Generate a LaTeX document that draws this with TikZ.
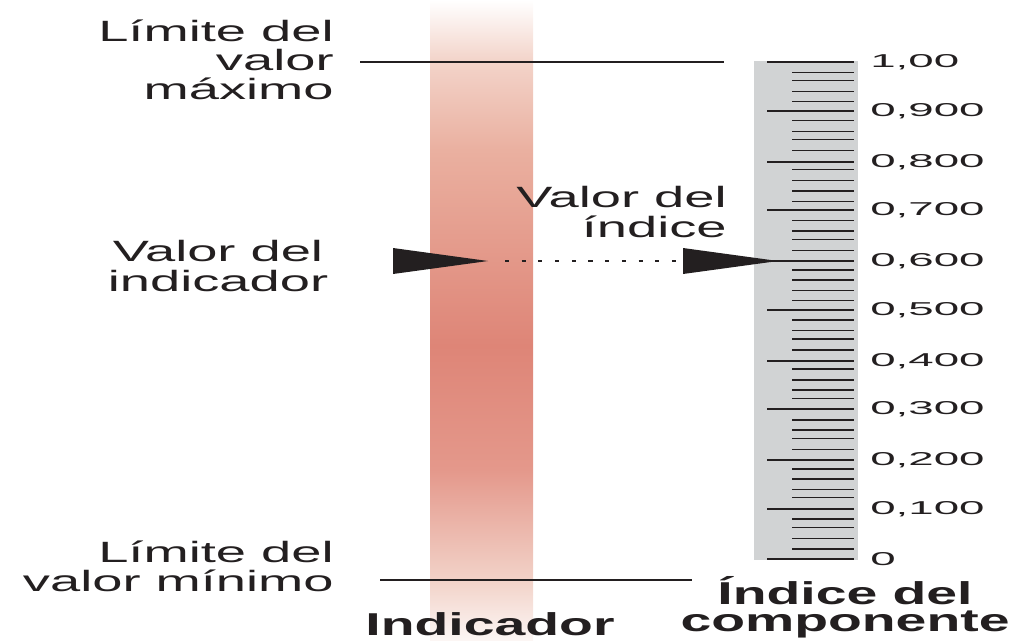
\documentclass[tikz,border=0pt]{standalone}
\usepackage{fontspec}
\setmainfont{Liberation Sans}
\newfontfamily\lblfont[FakeStretch=1.85]{Liberation Sans}
\newfontfamily\numfont[FakeStretch=2.45]{Liberation Sans}
\newfontfamily\ttlfont[FakeStretch=1.75]{Liberation Sans}
\usetikzlibrary{positioning}

\definecolor{barred}{RGB}{222,133,119}
\definecolor{barhigh}{RGB}{243,212,202}
\definecolor{barmidA}{RGB}{234,176,160}
\definecolor{barmidB}{RGB}{228,152,139}
\definecolor{barlow}{RGB}{242,210,200}
\definecolor{barbot}{RGB}{252,246,244}
\definecolor{scalegray}{RGB}{209,211,212}
\definecolor{ink}{RGB}{35,31,32}

\pgfdeclareverticalshading{barshade}{100bp}{color(0bp)=(barbot); color(25bp)=(barbot); color(29.7bp)=(barlow); color(38.3bp)=(barmidB); color(48bp)=(barred); color(63.3bp)=(barmidA); color(70.3bp)=(barhigh); color(75bp)=(white); color(100bp)=(white)}

\tikzset{
  lbl/.style={font=\lblfont\fontsize{16.7}{16.6}\selectfont, inner sep=0pt, text=ink},
  ttl/.style={font=\ttlfont\bfseries\fontsize{18}{15.6}\selectfont, inner sep=0pt, text=ink},
  num/.style={font=\numfont\fontsize{10.6}{12}\selectfont, inner sep=0pt, anchor=west, text=ink},
  limline/.style={ink, line width=0.9pt},
  tickmark/.style={ink, line width=0.8pt},
  dart/.style={fill=ink}
}

\begin{document}
\begin{tikzpicture}[x=0.02cm, y=-0.02cm]
        \useasboundingbox (0,0) rectangle (1021,640);

        % bars
        \shade[shading=barshade] (430,0) rectangle (533,640);
        \fill[scalegray] (754,61) rectangle (858,560);

        % scale
        \foreach \y/\t [count=\i] in {62/{1,00}, 111/{0,900}, 162/{0,800}, 210/{0,700}, 261/{0,600},
                310/{0,500}, 361/{0,400}, 409/{0,300}, 460/{0,200}, 509/{0,100}, 559/{0}} {
            \draw[tickmark] (767,\y) -- (854,\y);
            \node[num] (num\i) at (870,\y) {\t};
        }
        \foreach \y in {72.7, 80.7, 91.7, 101.7, 120.7, 131.7, 139.3, 150.7, 169.3, 180.7, 191, 201.7,
                220.7, 231, 239.3, 250.3, 270, 280, 290.7, 300.7, 320, 330.7, 339, 350,
                369, 380, 390, 398.3, 420, 430, 438.7, 449.2, 469, 479, 489.3, 497.3, 519, 527.7, 538.3, 549}
            \draw[tickmark] (792,\y) -- (854,\y);

        % limits
        \coordinate (maxL) at (360,62);
        \coordinate (maxR) at (724,62);
        \coordinate (minL) at (380,580);
        \coordinate (minR) at (692,580);
        \draw[limline] (maxL) -- (maxR);
        \draw[limline] (minL) -- (minR);

        % pointers
        \coordinate (tipL) at (488,261);
        \coordinate (tipR) at (778,261);
        \fill[dart] (393,248) -- (tipL) -- (393,274) -- cycle;
        \fill[dart] (683,248) -- (tipR) -- (683,274) -- cycle;
        \coordinate (dotL) at (505,261);
        \coordinate (dotR) at (680,261);
        \draw[ink, line width=1.1pt, dash pattern=on 2.3pt off 7.2pt] (dotL) -- (dotR);

        % labels
        \node[lbl, align=right, anchor=east] (maxlbl) at (334,60) {Límite del\\valor\\máximo};
        \node[lbl, align=right, anchor=east] (minlbl) at (334,566) {Límite del\\valor mínimo};
        \node[lbl, align=center] (indval) at (218,266) {Valor del\\indicador};
        \node[lbl, align=right, anchor=east] (idxval) at (727,212) {Valor del\\índice};
        \node[ttl] (indlbl) at (490,624) {Indicador};
        \node[ttl, align=center] (idxlbl) at (845,607) {Índice del\\componente};
\end{tikzpicture}
\end{document}
